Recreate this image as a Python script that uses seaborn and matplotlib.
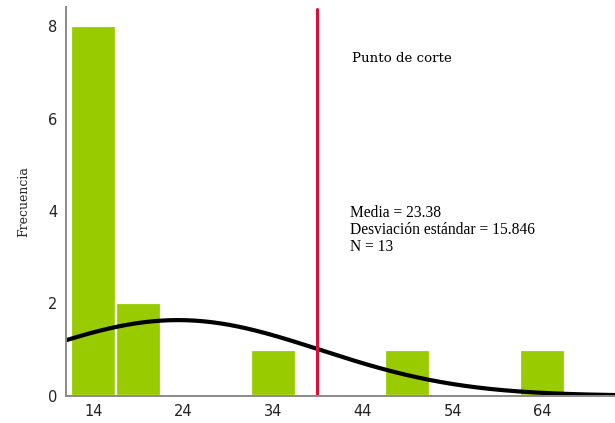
import numpy as np
import pandas as pd
import matplotlib
matplotlib.use("Agg")
import matplotlib.pyplot as plt
import seaborn as sns

# Histogram bins (centre of each 5-unit bin) and their frequencies
bin_centers = [14, 19, 34, 49, 64]
frequencies = [8, 2, 1, 1, 1]
x_ticks = [14, 24, 34, 44, 54, 64]
y_ticks = [0, 2, 4, 6, 8]

# Summary statistics of the sample
media = 23.38
desviacion = 15.846
n_total = 13
punto_corte = 38.9
bin_width = 5

sns.set_theme(style="white")
plt.rcParams["font.family"] = ["DejaVu Sans"]

fig = plt.figure(figsize=(6.15, 4.23), dpi=100)
ax = fig.add_axes([66 / 615, 27.3 / 423, 549 / 615, 389 / 423])

df = pd.DataFrame({"valor": bin_centers, "frecuencia": frequencies})
sns.histplot(data=df, x="valor", weights="frecuencia", binwidth=bin_width,
             binrange=(11.5, 66.5), color="#99CC00", alpha=1,
             edgecolor="white", linewidth=1.6, ax=ax)

# Fitted normal curve scaled to counts
xs = np.linspace(5, 80, 400)
ys = n_total * bin_width / (desviacion * np.sqrt(2 * np.pi)) * \
    np.exp(-0.5 * ((xs - media) / desviacion) ** 2)
sns.lineplot(x=xs, y=ys, color="black", linewidth=3.0, ax=ax)

ax.axvline(punto_corte, color="#D8113A", linewidth=2.2, ymax=0.995)

ax.set_xlim(10.9, 72.1)
ax.set_ylim(0, 8.42)
ax.set_xticks(x_ticks)
ax.set_yticks(y_ticks)
ax.tick_params(axis="both", length=0, labelsize=10.5, colors="#222222", pad=6)
ax.set_xlabel("")
ax.set_ylabel("Frecuencia", family="DejaVu Serif", fontsize=9, labelpad=13)

for side in ["top", "right"]:
    ax.spines[side].set_visible(False)
for side in ["left", "bottom"]:
    ax.spines[side].set_color("#8a8a8a")
    ax.spines[side].set_linewidth(1.4)

ax.text(352, 423 - 58, "Punto de corte", transform=None,
        family="DejaVu Serif", fontsize=9.6, va="center", ha="left",
        color="black")
stats = (f"Media = {media:.2f}\n"
         f"Desviación estándar = {desviacion:.3f}\n"
         f"N = {n_total}")
ax.text(350, 423 - 205, stats, transform=None, family="Liberation Serif",
        fontsize=11.2, va="top", ha="left", linespacing=1.07, color="black")

fig.savefig("out.png", dpi=100)
